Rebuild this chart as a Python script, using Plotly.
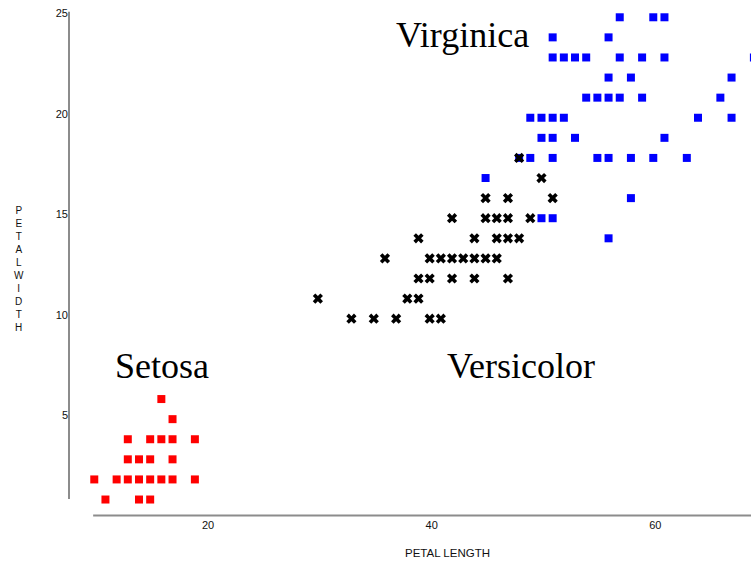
import plotly.graph_objects as go

# ---- data (petal length / petal width, mm) ----
setosa_len = [16, 17, 13, 15, 16, 17, 19, 13, 14, 15, 17, 10, 12, 13, 14, 15, 16, 17, 19, 11, 14, 15]
setosa_wid = [6, 5, 4, 4, 4, 4, 4, 3, 3, 3, 3, 2, 2, 2, 2, 2, 2, 2, 2, 1, 1, 1]

versicolor_len = [33, 35, 37, 40, 41,
                  30, 38, 39,
                  39, 40, 42, 44, 47,
                  36, 40, 41, 42, 43, 44, 45, 46,
                  39, 44, 46, 47, 48,
                  42, 45, 46, 47, 49,
                  45, 47, 51,
                  50,
                  48]
versicolor_wid = [10, 10, 10, 10, 10,
                  11, 11, 11,
                  12, 12, 12, 12, 12,
                  13, 13, 13, 13, 13, 13, 13, 13,
                  14, 14, 14, 14, 14,
                  15, 15, 15, 15, 15,
                  16, 16, 16,
                  17,
                  18]

virginica_len = [56,
                 50, 51,
                 58,
                 45,
                 48, 49, 51, 55, 56, 58, 60, 63,
                 50, 51, 53, 61,
                 49, 50, 51, 52, 64, 67,
                 54, 55, 56, 57, 59, 66,
                 56, 58, 67,
                 51, 52, 53, 54, 57, 59, 61, 69,
                 51, 56,
                 57, 60, 61]
virginica_wid = [14,
                 15, 15,
                 16,
                 17,
                 18, 18, 18, 18, 18, 18, 18, 18,
                 19, 19, 19, 19,
                 20, 20, 20, 20, 20, 20,
                 21, 21, 21, 21, 21, 21,
                 22, 22, 22,
                 23, 23, 23, 23, 23, 23, 23, 23,
                 24, 24,
                 25, 25, 25]

x_ticks = [20, 40, 60]
y_ticks = [5, 10, 15, 20, 25]

species_labels = ["Setosa", "Versicolor", "Virginica"]
label_x = [16.1, 48.15, 42.9]
label_y = [7.65, 7.65, 24.1]

fig = go.Figure()
fig.add_trace(go.Scatter(x=setosa_len, y=setosa_wid, mode="markers",
                         marker=dict(symbol="square", size=8, color="#ff0000", line=dict(width=0)),
                         name="Setosa"))
fig.add_trace(go.Scatter(x=virginica_len, y=virginica_wid, mode="markers",
                         marker=dict(symbol="square", size=8, color="#0000ff", line=dict(width=0)),
                         name="Virginica"))
fig.add_trace(go.Scatter(x=versicolor_len, y=versicolor_wid, mode="markers",
                         marker=dict(symbol="x", size=9, color="#000000", line=dict(width=0)),
                         name="Versicolor"))

for t, xx, yy in zip(species_labels, label_x, label_y):
    fig.add_annotation(x=xx, y=yy, xref="x", yref="y", text=t, showarrow=False,
                       xanchor="center", yanchor="middle",
                       font=dict(family="Liberation Serif", size=36, color="#000000"))

# axis titles
fig.add_annotation(x=0.555, y=-0.069, xref="paper", yref="paper", text="PETAL LENGTH",
                   showarrow=False, xanchor="center", yanchor="middle",
                   font=dict(family="Liberation Sans", size=11.5, color="#111111"))
fig.add_annotation(x=-0.0735, y=0.48, xref="paper", yref="paper",
                   text="<br>".join(list("PETALWIDTH")),
                   showarrow=False, xanchor="center", yanchor="middle",
                   font=dict(family="Liberation Sans", size=10, color="#111111"))

# axis lines (offset style)
fig.add_shape(type="line", xref="paper", yref="y", x0=0, x1=0, y0=1.03, y1=25.27,
              line=dict(color="#8c8c8c", width=2))
fig.add_shape(type="line", xref="x", yref="paper", x0=9.9, x1=68.74, y0=0.003, y1=0.003,
              line=dict(color="#8c8c8c", width=2))

fig.update_layout(
    template="none",
    width=751, height=566,
    margin=dict(l=69, r=0, t=0, b=49, pad=0, autoexpand=False),
    paper_bgcolor="white", plot_bgcolor="white",
    showlegend=False,
    font=dict(family="Liberation Sans", size=11, color="#111111"),
)
fig.update_xaxes(range=[7.74, 68.74], tickvals=x_ticks, showgrid=False, zeroline=False,
                 showline=False, ticks="", ticklabelstandoff=0, ticklabelshift=2,
                 automargin=False,
                 tickfont=dict(family="Liberation Sans", size=11, color="#111111"))
fig.update_yaxes(range=[0.13, 25.86], tickvals=y_ticks, showgrid=False, zeroline=False,
                 showline=False, ticks="", ticklabelstandoff=0, ticklabelshift=-4,
                 automargin=False,
                 tickfont=dict(family="Liberation Sans", size=11, color="#111111"))

fig.write_html("out.html", config={"displayModeBar": False},
               post_script="document.body.style.margin='0';")
